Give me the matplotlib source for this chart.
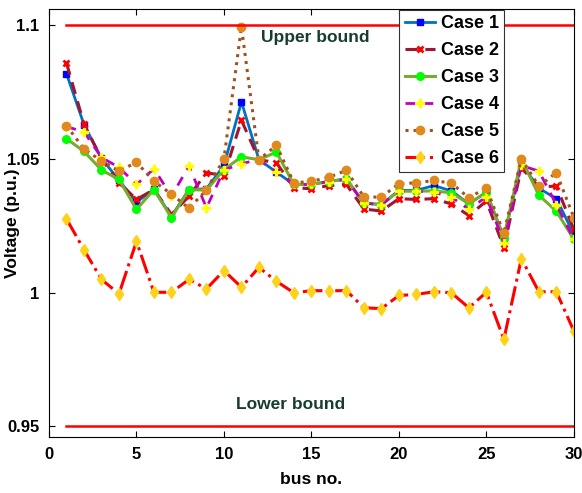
import numpy as np
import matplotlib
matplotlib.use('Agg')
import matplotlib.pyplot as plt

plt.rcParams['font.family'] = ['Liberation Sans', 'DejaVu Sans']
plt.rcParams['font.weight'] = 'bold'

bus = np.arange(1, 31)

case1 = [1.0818, 1.0628, 1.0502, 1.0420, 1.0338, 1.0386, 1.0285, 1.0385, 1.0388, 1.0475,
         1.0713, 1.0497, 1.0450, 1.0404, 1.0404, 1.0416, 1.0425, 1.0334, 1.0329, 1.0382,
         1.0382, 1.0400, 1.0380, 1.0332, 1.0375, 1.0205, 1.0482, 1.0390, 1.0351, 1.0218]
case2 = [1.0858, 1.0630, 1.0500, 1.0411, 1.0348, 1.0385, 1.0292, 1.0360, 1.0448, 1.0437,
         1.0644, 1.0497, 1.0485, 1.0392, 1.0388, 1.0400, 1.0404, 1.0312, 1.0305, 1.0351,
         1.0348, 1.0351, 1.0331, 1.0288, 1.0342, 1.0168, 1.0466, 1.0395, 1.0398, 1.0236]
case3 = [1.0575, 1.0528, 1.0458, 1.0423, 1.0311, 1.0385, 1.0280, 1.0385, 1.0383, 1.0460,
         1.0507, 1.0497, 1.0525, 1.0404, 1.0404, 1.0415, 1.0424, 1.0335, 1.0329, 1.0379,
         1.0379, 1.0380, 1.0373, 1.0332, 1.0375, 1.0205, 1.0500, 1.0364, 1.0304, 1.0199]
case4 = [1.0620, 1.0601, 1.0505, 1.0468, 1.0404, 1.0463, 1.0360, 1.0473, 1.0317, 1.0458,
         1.0482, 1.0497, 1.0449, 1.0404, 1.0404, 1.0415, 1.0423, 1.0334, 1.0329, 1.0379,
         1.0379, 1.0375, 1.0357, 1.0311, 1.0358, 1.0187, 1.0475, 1.0454, 1.0329, 1.0199]
case5 = [1.0624, 1.0537, 1.0492, 1.0454, 1.0487, 1.0416, 1.0368, 1.0315, 1.0383, 1.0500,
         1.0993, 1.0497, 1.0550, 1.0410, 1.0416, 1.0431, 1.0457, 1.0357, 1.0357, 1.0407,
         1.0410, 1.0419, 1.0409, 1.0354, 1.0392, 1.0221, 1.0500, 1.0398, 1.0448, 1.0280]
case6 = [1.0275, 1.0160, 1.0049, 0.9995, 1.0191, 1.0001, 1.0001, 1.0049, 1.0014, 1.0082,
         1.0020, 1.0094, 1.0042, 0.9999, 1.0007, 1.0007, 1.0007, 0.9943, 0.9940, 0.9989,
         0.9993, 1.0003, 0.9999, 0.9943, 1.0001, 0.9825, 1.0127, 1.0003, 1.0003, 0.9856]

upper = 1.1
lower = 0.95

fig = plt.figure(figsize=(5.82, 4.93), dpi=100)
ax = fig.add_axes([0.0842, 0.1136, 0.9018, 0.8681])

ax.plot(bus, case1, '-', color='#0072BD', lw=2, marker='s', ms=4.5,
        mfc='#0000ff', mec='#0000ff', label='Case 1')
ax.plot(bus, case2, '--', color='#A2142F', lw=2.2, dashes=(4, 2.5), marker='x', ms=4.5,
        mew=2, mec='#ff0000', label='Case 2')
ax.plot(bus, case3, '-', color='#77AC30', lw=2.2, marker='o', ms=5.5,
        mfc='#00ff00', mec='#00ff00', label='Case 3')
ax.plot(bus, case4, '--', color='#c000c0', lw=2, dashes=(3.5, 3), marker='P', ms=5.5,
        mfc='#ffff00', mec='#ffff00', label='Case 4')
ax.plot(bus, case5, ':', color='#A0521E', lw=2.2, marker='o', ms=6,
        mfc='#E08A1E', mec='#E08A1E', label='Case 5')
ax.plot(bus, case6, '-.', color='#ff0000', lw=2.2, marker='d', ms=6,
        mfc='#FFD21A', mec='#FFD21A', label='Case 6')

ax.plot([1, 30], [upper, upper], color='#ff0000', lw=1.8)
ax.plot([1, 30], [lower, lower], color='#ff0000', lw=1.8)
ax.text(15.2, 1.0955, 'Upper bound', color='#173d2c', fontsize=12.5,
        fontweight='bold', ha='center', va='center')
ax.text(13.8, 0.958, 'Lower bound', color='#173d2c', fontsize=12.5,
        fontweight='bold', ha='center', va='center')

ax.set_xlim(0, 30)
ax.set_ylim(0.946, 1.106)
ax.set_xticks([0, 5, 10, 15, 20, 25, 30])
ax.set_yticks([0.95, 1.0, 1.05, 1.1])
ax.set_yticklabels(['0.95', '1', '1.05', '1.1'])
ax.tick_params(direction='in', top=True, right=True, labelsize=12, length=4, pad=7)
for lab in ax.get_xticklabels() + ax.get_yticklabels():
    lab.set_fontweight('bold')
ax.set_xlabel('bus no.', fontsize=12.5, fontweight='bold')
ax.set_ylabel('Voltage (p.u.)', fontsize=12.5, fontweight='bold')
ax.yaxis.set_label_coords(-0.055, 0.5)
ax.xaxis.set_label_coords(0.5, -0.082)

leg = ax.legend(loc='upper right', bbox_to_anchor=(0.869, 1.0), borderaxespad=0.05,
                fontsize=13, fancybox=False, edgecolor='#333333', framealpha=1,
                handlelength=1.7, labelspacing=0.55, borderpad=0.3, handletextpad=0.3)
leg.get_frame().set_linewidth(0.8)

fig.savefig('out.png', dpi=100)
